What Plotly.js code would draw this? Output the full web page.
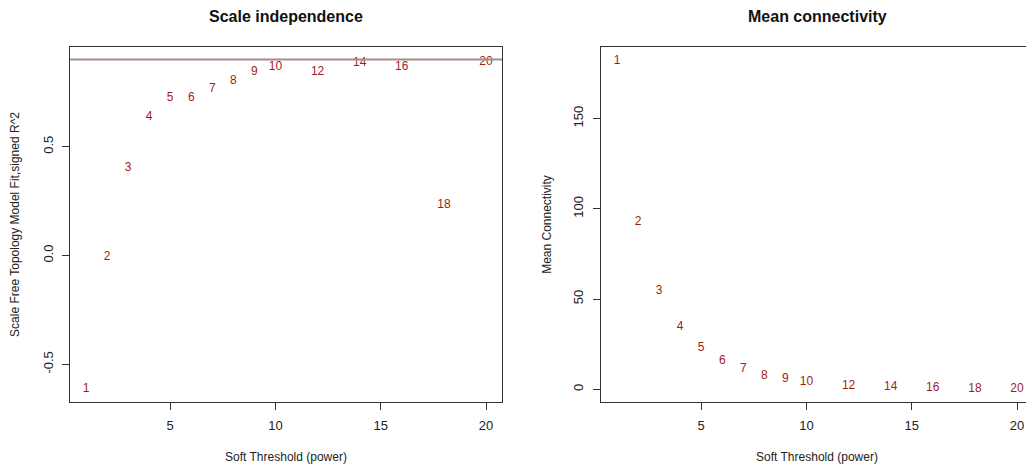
<!DOCTYPE html>
<html>
<head>
<meta charset="utf-8">
<script src="https://cdn.plot.ly/plotly-3.0.1.min.js"></script>
<style>
html,body{margin:0;padding:0;overflow:hidden;background:#fff;width:1026px;height:470px;}
#plot{width:1040px;height:470px;}
</style>
</head>
<body>
<div id="plot"></div>
<script>
// Soft-threshold powers
const powers = [1,2,3,4,5,6,7,8,9,10,12,14,16,18,20];
// Scale-free topology model fit, signed R^2
const sftR2 = [-0.615,-0.007,0.402,0.638,0.725,0.722,0.764,0.800,0.843,0.865,0.842,0.883,0.865,0.231,0.890];
// Mean connectivity
const meanK = [181.6,92.5,54.2,34.4,22.9,15.5,11.1,7.6,5.7,3.9,1.8,1.1,0.7,0.4,0.2];
const cutHeight = 0.90;
const xTicks = [5,10,15,20];
const yTicksLeft = [-0.5,0.0,0.5];
const yTickTextLeft = ['-0.5','0.0','0.5'];
const yTicksRight = [0,50,100,150];

const W = 1040, H = 470;
const font = {family:'"Liberation Sans", Arial, sans-serif', size:12, color:'#222'};
const labelColor = '#a01c1c';

const traces = [
  {x:powers, y:sftR2, text:powers.map(String), mode:'text', type:'scatter',
   textposition:'middle center', textfont:{color:labelColor, size:12, family:font.family},
   xaxis:'x', yaxis:'y', hoverinfo:'skip', cliponaxis:false},
  {x:powers, y:meanK, text:powers.map(String), mode:'text', type:'scatter',
   textposition:'middle center', textfont:{color:labelColor, size:12, family:font.family},
   xaxis:'x2', yaxis:'y2', hoverinfo:'skip', cliponaxis:false}
];

const axBase = {showgrid:false, zeroline:false, showline:true, mirror:true,
  linecolor:'#333', linewidth:1, ticks:'outside', ticklen:7, tickcolor:'#333',
  tickfont:{family:font.family, size:13, color:'#222'}, automargin:false, fixedrange:true};
const tf = {family:font.family,size:12,color:'#222'};

const yDom = [1-402/H, 1-47/H];
const layout = {
  width:W, height:H, margin:{l:0,r:0,t:0,b:0},
  paper_bgcolor:'#fff', plot_bgcolor:'#fff', showlegend:false, font:font,
  xaxis:Object.assign({}, axBase, {domain:[70/W,502/W], range:[0.24,20.76], tickvals:xTicks, ticklabelstandoff:4,
    title:{text:'Soft Threshold (power)', font:tf, standoff:21}, anchor:'y'}),
  yaxis:Object.assign({}, axBase, {domain:yDom, range:[-0.673,0.958], tickvals:yTicksLeft, ticktext:yTickTextLeft,
    ticklabelstandoff:4, tickangle:-90, title:{text:'Scale Free Topology Model Fit,signed R^2', font:tf, standoff:18}, anchor:'x'}),
  xaxis2:Object.assign({}, axBase, {domain:[601/W,1033/W], range:[0.24,20.76], tickvals:xTicks, ticklabelstandoff:4,
    title:{text:'Soft Threshold (power)', font:tf, standoff:21}, anchor:'y2'}),
  yaxis2:Object.assign({}, axBase, {domain:yDom, range:[-7.05,189.6], tickvals:yTicksRight,
    ticklabelstandoff:5, tickangle:-90, title:{text:'Mean Connectivity', font:tf, standoff:16}, anchor:'x2'}),
  shapes:[{type:'line', xref:'x domain', yref:'y', x0:0, x1:1, y0:cutHeight, y1:cutHeight,
    line:{color:'#a88c8c', width:2}}],
  annotations:[
    {text:'<b>Scale independence</b>', xref:'paper', yref:'paper', x:286/W, y:1-16/H,
     showarrow:false, xanchor:'center', yanchor:'middle', font:{family:font.family,size:16,color:'#111'}},
    {text:'<b>Mean connectivity</b>', xref:'paper', yref:'paper', x:817/W, y:1-16/H,
     showarrow:false, xanchor:'center', yanchor:'middle', font:{family:font.family,size:16,color:'#111'}}
  ]
};
Plotly.newPlot('plot', traces, layout, {staticPlot:true, displayModeBar:false});
</script>
</body>
</html>
